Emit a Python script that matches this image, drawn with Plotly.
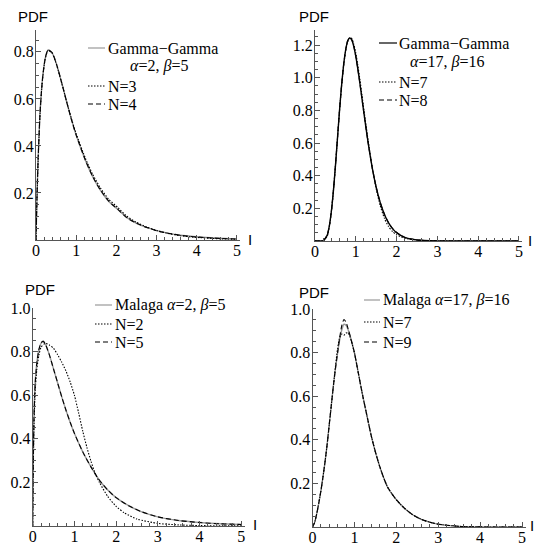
import plotly.graph_objects as go

# ---------------- data ----------------
# Panel 1: Gamma-Gamma alpha=2, beta=5 and approximations N=3, N=4
p1_x = [0, 0.01, 0.025, 0.05, 0.1, 0.16, 0.23, 0.3, 0.4, 0.51, 0.63, 0.76, 0.9, 1.0,
        1.23, 1.41, 1.6, 1.81, 2.03, 2.26, 2.5, 2.76, 3.03, 3.31, 3.6, 3.91, 4.56, 5.0]
p1_gg = [0, 0.079, 0.185, 0.331, 0.539, 0.682, 0.773, 0.808, 0.797, 0.748, 0.675, 0.589,
         0.501, 0.445, 0.338, 0.269, 0.212, 0.164, 0.131, 0.095, 0.071, 0.053, 0.039,
         0.028, 0.020, 0.015, 0.0075, 0.0048]
p1_n3 = [0, 0.075, 0.178, 0.325, 0.535, 0.680, 0.772, 0.806, 0.795, 0.746, 0.673, 0.590,
         0.505, 0.452, 0.347, 0.279, 0.222, 0.173, 0.139, 0.101, 0.075, 0.055, 0.039,
         0.027, 0.018, 0.012, 0.005, 0.003]
p1_n4 = [0, 0.078, 0.184, 0.330, 0.538, 0.682, 0.773, 0.809, 0.797, 0.748, 0.675, 0.589,
         0.501, 0.446, 0.339, 0.270, 0.213, 0.165, 0.131, 0.095, 0.071, 0.053, 0.038,
         0.028, 0.020, 0.014, 0.007, 0.004]

# Panel 2: Gamma-Gamma alpha=17, beta=16 and approximations N=7, N=8
p2_x = [0, 0.1, 0.2, 0.3, 0.35, 0.4, 0.45, 0.5, 0.55, 0.6, 0.65, 0.7, 0.75, 0.8, 0.85, 0.9,
        0.95, 1.0, 1.05, 1.1, 1.15, 1.2, 1.3, 1.4, 1.5, 1.6, 1.7, 1.8, 1.9, 2.0, 2.2, 2.5,
        3.0, 4.0, 5.0]
p2_gg = [0, 0, 0.002, 0.036, 0.090, 0.179, 0.304, 0.457, 0.626, 0.795, 0.948, 1.075, 1.168,
         1.225, 1.244, 1.232, 1.192, 1.130, 1.053, 0.966, 0.874, 0.781, 0.605, 0.453, 0.330,
         0.234, 0.164, 0.112, 0.076, 0.051, 0.022, 0.006, 0.0007, 0, 0]
p2_n7 = [0, 0, 0.001, 0.030, 0.085, 0.175, 0.300, 0.455, 0.625, 0.795, 0.945, 1.070, 1.160,
         1.220, 1.245, 1.240, 1.205, 1.150, 1.075, 0.990, 0.895, 0.800, 0.620, 0.455, 0.320,
         0.215, 0.140, 0.090, 0.058, 0.038, 0.017, 0.006, 0.001, 0, 0]
p2_n8 = [0, 0, 0.002, 0.037, 0.091, 0.180, 0.305, 0.458, 0.627, 0.796, 0.948, 1.075, 1.168,
         1.226, 1.246, 1.233, 1.192, 1.130, 1.053, 0.966, 0.874, 0.781, 0.605, 0.453, 0.330,
         0.235, 0.165, 0.113, 0.077, 0.052, 0.022, 0.006, 0.0007, 0, 0]

# Panel 3: Malaga alpha=2, beta=5 and approximations N=2, N=5
p3_x = [0, 0.01, 0.03, 0.06, 0.1, 0.15, 0.2, 0.25, 0.3, 0.4, 0.5, 0.6, 0.7, 0.8, 0.9, 1.0,
        1.2, 1.4, 1.6, 1.8, 2.0, 2.3, 2.6, 3.0, 3.5, 4.0, 4.5, 5.0]
p3_ml = [0, 0.25, 0.50, 0.66, 0.75, 0.81, 0.838, 0.845, 0.835, 0.785, 0.72, 0.655, 0.59,
         0.53, 0.475, 0.425, 0.34, 0.27, 0.21, 0.165, 0.13, 0.093, 0.066, 0.042, 0.025,
         0.016, 0.010, 0.007]
p3_n5 = [0, 0.24, 0.49, 0.655, 0.75, 0.81, 0.84, 0.848, 0.836, 0.785, 0.72, 0.655, 0.59,
         0.53, 0.475, 0.425, 0.34, 0.27, 0.21, 0.165, 0.13, 0.093, 0.066, 0.042, 0.025,
         0.016, 0.010, 0.007]
p3_n2_x = [0, 0.01, 0.03, 0.06, 0.1, 0.15, 0.2, 0.3, 0.4, 0.5, 0.6, 0.7, 0.8, 0.9, 1.0, 1.1,
           1.2, 1.3, 1.4, 1.5, 1.6, 1.8, 2.0, 2.2, 2.5, 3.0, 3.5, 4.0, 5.0]
p3_n2 = [0, 0.22, 0.45, 0.62, 0.72, 0.785, 0.82, 0.838, 0.83, 0.815, 0.785, 0.75, 0.71,
         0.66, 0.60, 0.52, 0.435, 0.36, 0.295, 0.24, 0.20, 0.135, 0.09, 0.06, 0.032, 0.012,
         0.005, 0.002, 0.0003]

# Panel 4: Malaga alpha=17, beta=16 and approximations N=7, N=9
p4_x = [0, 0.05, 0.1, 0.15, 0.2, 0.25, 0.3, 0.35, 0.4, 0.45, 0.5, 0.55, 0.6, 0.65, 0.7, 0.75,
        0.8, 0.85, 0.9, 1.0, 1.1, 1.2, 1.3, 1.4, 1.5, 1.6, 1.7, 1.8, 2.0, 2.2, 2.4, 2.6, 2.8,
        3.0, 3.5, 4.0, 5.0]
p4_ml = [0, 0.02, 0.06, 0.11, 0.165, 0.23, 0.30, 0.38, 0.47, 0.56, 0.65, 0.73, 0.80, 0.86,
         0.905, 0.93, 0.925, 0.905, 0.875, 0.80, 0.70, 0.60, 0.51, 0.42, 0.345, 0.28, 0.225,
         0.18, 0.125, 0.085, 0.055, 0.035, 0.022, 0.013, 0.003, 0.0005, 0]
p4_n7 = [0, 0.02, 0.06, 0.11, 0.165, 0.23, 0.30, 0.38, 0.47, 0.56, 0.65, 0.74, 0.82, 0.87,
         0.885, 0.88, 0.89, 0.89, 0.87, 0.80, 0.70, 0.60, 0.51, 0.42, 0.345, 0.28, 0.225,
         0.18, 0.125, 0.085, 0.055, 0.035, 0.022, 0.013, 0.003, 0.0005, 0]
p4_n9 = [0, 0.02, 0.06, 0.11, 0.165, 0.23, 0.30, 0.38, 0.47, 0.56, 0.65, 0.73, 0.80, 0.87,
         0.925, 0.952, 0.94, 0.91, 0.875, 0.80, 0.70, 0.60, 0.51, 0.42, 0.345, 0.28, 0.225,
         0.18, 0.125, 0.085, 0.055, 0.035, 0.022, 0.013, 0.003, 0.0005, 0]

x_ticks = [0, 1, 2, 3, 4, 5]
x_labels = ["0", "1", "2", "3", "4", "5"]
y_ticks_p1 = [0.2, 0.4, 0.6, 0.8]
y_ticks_p2 = [0.2, 0.4, 0.6, 0.8, 1.0, 1.2]
y_ticks_p34 = [0.2, 0.4, 0.6, 0.8, 1.0]

# ---------------- figure ----------------
W, H = 534, 545


def fx(px):
    return px / W


def fy(py):
    return 1 - py / H


GRAY = "#999999"
AX = "#555555"
SERIF = "Liberation Serif"
SANS = "Liberation Sans"
DOT = "1.5px,1.5px"
DASH = "5px,3px"

fig = go.Figure()

series = [
    # (panel, x, y, color, dash, width)
    (1, p1_x, p1_gg, GRAY, "solid", 1.4),
    (1, p1_x, p1_n3, "black", DOT, 1.1),
    (1, p1_x, p1_n4, "black", DASH, 1.1),
    (2, p2_x, p2_gg, "black", "solid", 1.4),
    (2, p2_x, p2_n7, "black", DOT, 1.1),
    (2, p2_x, p2_n8, "black", DASH, 1.1),
    (3, p3_x, p3_ml, GRAY, "solid", 1.4),
    (3, p3_n2_x, p3_n2, "black", DOT, 1.1),
    (3, p3_x, p3_n5, "black", DASH, 1.1),
    (4, p4_x, p4_ml, GRAY, "solid", 1.4),
    (4, p4_x, p4_n7, "black", DOT, 1.1),
    (4, p4_x, p4_n9, "black", DASH, 1.1),
]
for pnl, xs, ys, col, dash, w in series:
    sfx = "" if pnl == 1 else str(pnl)
    fig.add_trace(go.Scatter(
        x=xs, y=ys, mode="lines", xaxis="x" + sfx, yaxis="y" + sfx,
        line=dict(color=col, dash=dash, width=w, shape="spline", smoothing=0.6),
        showlegend=False, hoverinfo="skip"))

# panel geometry in pixels: (x0px, x_end_px, xmax, ybottom_px, ytop_px, ymax, yticks)
panels = {
    1: (36, 240, 5.075, 240, 30, 0.893, y_ticks_p1),
    2: (315, 522, 5.074, 241, 30, 1.292, y_ticks_p2),
    3: (32.7, 244.6, 5.08, 526, 308, 1.0, y_ticks_p34),
    4: (312.5, 525.5, 5.083, 527, 309, 1.0, y_ticks_p34),
}

layout = dict(width=W, height=H, margin=dict(l=0, r=0, t=0, b=0, pad=0),
              paper_bgcolor="white", plot_bgcolor="rgba(0,0,0,0)", showlegend=False)

common = dict(showline=True, linecolor=AX, linewidth=1, ticks="inside", ticklen=5,
              tickwidth=1, tickcolor=AX, showgrid=False, zeroline=False, automargin=False,
              tickfont=dict(family=SERIF, size=16, color="black"), fixedrange=True)

for pnl, (x0, x1, xmax, yb, yt, ymax, yt_vals) in panels.items():
    sfx = "" if pnl == 1 else str(pnl)
    layout["xaxis" + sfx] = dict(
        domain=[fx(x0), fx(x1)], range=[0, xmax], anchor="y" + sfx,
        tickmode="array", tickvals=x_ticks, ticktext=x_labels, ticklabelstandoff=-4,
        minor=dict(tickmode="linear", tick0=0, dtick=0.2, ticks="inside", ticklen=3,
                   tickwidth=1, tickcolor=AX, showgrid=False),
        **common)
    layout["yaxis" + sfx] = dict(
        domain=[fy(yb), fy(yt)], range=[0, ymax], anchor="x" + sfx,
        tickmode="array", tickvals=yt_vals, ticktext=["%.1f" % v for v in yt_vals],
        ticklabelstandoff=-2,
        minor=dict(tickmode="linear", tick0=0, dtick=0.05, ticks="inside", ticklen=3,
                   tickwidth=1, tickcolor=AX, showgrid=False),
        **common)

fig.update_layout(**layout)

annotations = []
shapes = []


def text(px, py, s, family=SERIF, size=16, xanchor="left"):
    annotations.append(dict(x=fx(px), y=fy(py), xref="paper", yref="paper", text=s,
                            showarrow=False, xanchor=xanchor, yanchor="middle",
                            font=dict(family=family, size=size, color="black")))


def sample(px0, px1, py, color, dash):
    shapes.append(dict(type="line", xref="paper", yref="paper", x0=fx(px0), x1=fx(px1),
                       y0=fy(py), y1=fy(py), line=dict(color=color, width=1.2, dash=dash)))


# axis titles
for (cx, cy) in [(33, 17), (314, 17), (40, 289), (314, 292)]:
    text(cx, cy, "PDF", family=SANS, size=15, xanchor="center")
for (cx, cy) in [(250, 239), (530, 240), (254.5, 524), (532, 525)]:
    text(cx, cy, "I", family=SANS, size=15, xanchor="center")

# legends
sample(88, 105, 48, GRAY, "solid")
text(106, 48, "Gamma\u2212Gamma")
text(128, 66, "<i>\u03b1</i>=2, <i>\u03b2</i>=5")
sample(88, 105, 86, "black", DOT)
text(106, 86, "N=3")
sample(88, 105, 104, "black", DASH)
text(106, 104, "N=4")

sample(379, 397, 43, "black", "solid")
text(397, 43, "Gamma\u2212Gamma")
text(408, 62, "<i>\u03b1</i>=17, <i>\u03b2</i>=16")
sample(379, 397, 82, "black", DOT)
text(397, 82, "N=7")
sample(379, 397, 100, "black", DASH)
text(397, 100, "N=8")

sample(95, 112, 305, GRAY, "solid")
text(113, 305, "Malaga <i>\u03b1</i>=2, <i>\u03b2</i>=5")
sample(95, 112, 324, "black", DOT)
text(113, 324, "N=2")
sample(95, 112, 342, "black", DASH)
text(113, 342, "N=5")

sample(364, 380, 300, GRAY, "solid")
text(381, 300, "Malaga <i>\u03b1</i>=17, <i>\u03b2</i>=16")
sample(364, 380, 322, "black", DOT)
text(381, 322, "N=7")
sample(364, 380, 342, "black", DASH)
text(381, 342, "N=9")

fig.update_layout(annotations=annotations, shapes=shapes)
fig.write_html("out.html", config={"displayModeBar": False},
               post_script="document.body.style.margin='0';document.body.style.padding='0';")
